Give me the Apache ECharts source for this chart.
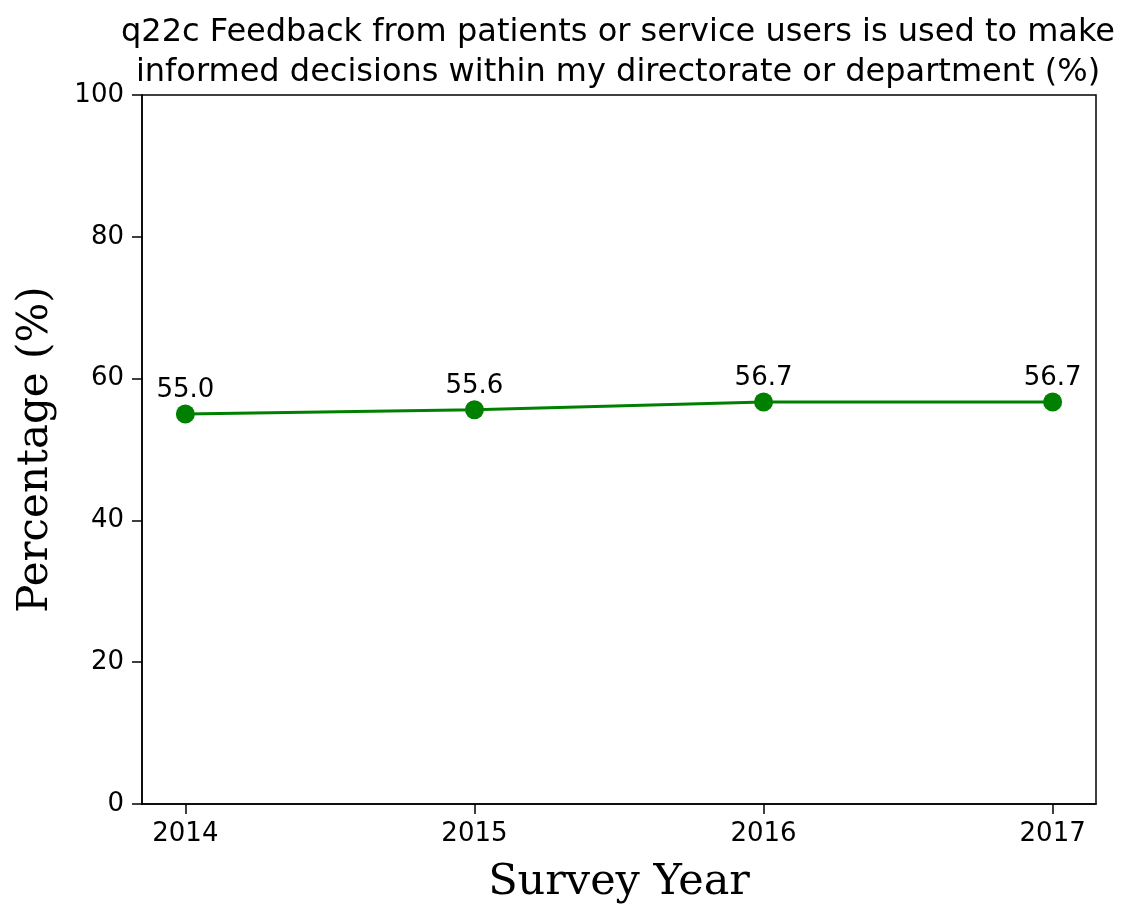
<!DOCTYPE html>
<html><head><meta charset="utf-8">
<script src="https://cdn.jsdelivr.net/npm/echarts@6/dist/echarts.min.js"></script>
<style>html,body{margin:0;padding:0;background:#fff}#c{width:1125px;height:904px}</style>
</head><body><div id="c"></div>
<script>
const years = [2014, 2015, 2016, 2017];
const values = [55.0, 55.6, 56.7, 56.7];
const yTicks = [0, 20, 40, 60, 80, 100];
const titleText = 'q22c Feedback from patients or service users is used to make\ninformed decisions within my directorate or department (%)';

const chart = echarts.init(document.getElementById('c'), null, {renderer: 'canvas'});
chart.setOption({
  animation: false,
  backgroundColor: '#fff',
  title: {
    text: titleText, left: 613, top: 8, textAlign: 'center',
    textStyle: {fontFamily: 'DejaVu Sans', fontWeight: 'normal', fontSize: 32, color: '#000', lineHeight: 40}
  },
  grid: {left: 142, right: 29, top: 95, bottom: 100, show: true, borderColor: '#000', borderWidth: 1.5,
    containLabel: false, outerBoundsMode: 'none'},
  xAxis: {
    type: 'value', min: 2013.85, max: 2017.15,
    name: 'Survey Year', nameLocation: 'middle', nameGap: 57,
    nameTextStyle: {fontFamily: 'DejaVu Serif', fontSize: 43, color: '#000'},
    axisLine: {show: true, onZero: false, lineStyle: {color: '#000', width: 1.5}},
    axisTick: {show: true, length: 10, customValues: years, lineStyle: {color: '#000', width: 1.5}},
    axisLabel: {customValues: years, fontFamily: 'DejaVu Sans', fontSize: 26, color: '#000', margin: 17, formatter: v => String(v)},
    splitLine: {show: false}
  },
  yAxis: {
    type: 'value', min: 0, max: 100, interval: 20,
    name: 'Percentage (%)', nameLocation: 'middle', nameGap: 85,
    nameTextStyle: {fontFamily: 'DejaVu Serif', fontSize: 42, color: '#000'},
    axisLine: {show: true, lineStyle: {color: '#000', width: 1.5}},
    axisTick: {show: true, length: 10, lineStyle: {color: '#000', width: 1.5}},
    axisLabel: {fontFamily: 'DejaVu Sans', fontSize: 26, color: '#000', margin: 18},
    splitLine: {show: false}
  },
  series: [{
    type: 'line',
    data: years.map((y, i) => [y, values[i]]),
    symbol: 'circle', symbolSize: 19,
    lineStyle: {color: '#008000', width: 3},
    itemStyle: {color: '#008000'},
    label: {show: true, position: 'top', distance: 1, fontFamily: 'DejaVu Sans', fontSize: 26, color: '#000',
      formatter: p => p.value[1].toFixed(1)}
  }]
});
</script></body></html>
